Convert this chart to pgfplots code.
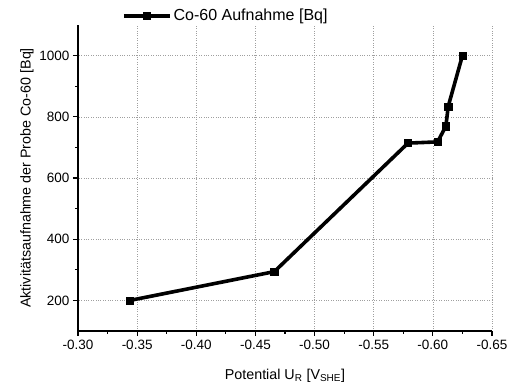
\documentclass[border=0pt]{standalone}
\usepackage{pgfplots}
\pgfplotsset{compat=1.18}
\usepackage{fontspec}
\setmainfont{Liberation Sans}
\begin{document}
\begin{tikzpicture}
\begin{axis}[
  at={(0pt,0pt)}, anchor=south west,
  scale only axis, width=414pt, height=306pt,
  x dir=reverse,
  xmin=-0.65, xmax=-0.30, ymin=100, ymax=1100,
  xtick={-0.30,-0.35,-0.40,-0.45,-0.50,-0.55,-0.60,-0.65},
  ytick={200,400,600,800,1000},
  minor x tick num=1, minor y tick num=1,
  xticklabel style={yshift=-1pt},
  x tick label style={/pgf/number format/fixed,/pgf/number format/fixed zerofill,/pgf/number format/precision=2},
  /pgf/number format/1000 sep={},
  /pgf/number format/assume math mode=true,
  axis x line*=bottom, axis y line*=left,
  axis line style={line width=1.6pt,-},
  tick style={line width=1.2pt,black},
  major tick length=5pt, minor tick length=3pt,
  tick align=outside,
  grid=major,
  major grid style={dotted, gray!75, line width=0.5pt},
  ticklabel style={font=\fontsize{13.5}{15}\selectfont},
  label style={font=\fontsize{14.3}{16}\selectfont},
  xlabel={Potential U\textsubscript{R} [V\textsubscript{SHE}]},
  ylabel={Aktivitätsaufnahme der Probe Co-60 [Bq]},
  xlabel style={yshift=-12pt},
  ylabel style={yshift=-1pt},
  legend style={at={(axis description cs:0.106,1.03)}, anchor=west, draw=none, fill=none, inner sep=0pt,
    font=\fontsize{16}{18}\selectfont},
  legend image code/.code={\draw[mark repeat=2,mark phase=2,#1] plot coordinates {(0pt,0pt)(23pt,0pt)(46pt,0pt)};},
  clip=false,
]
\addplot[black, line width=3.6pt, mark=square*, mark size=3.6pt, mark options={line width=0.5pt}] coordinates {
(-0.344,200)
(-0.466,294)
(-0.579,714)
(-0.604,718)
(-0.611,769)
(-0.613,834)
(-0.625,1000)
};
\addlegendentry{Co-60 Aufnahme [Bq]}
\end{axis}
\useasboundingbox (-78pt,-56pt) rectangle (436pt,331pt);
\end{tikzpicture}
\end{document}
